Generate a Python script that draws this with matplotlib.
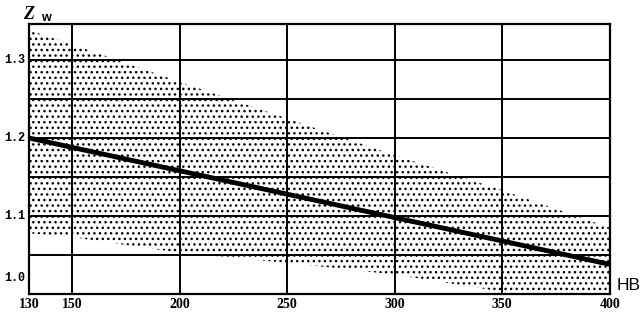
import matplotlib.pyplot as plt

# Band limits (Z_w against hardness HB) and the mean line
hb_band = [130, 150, 200, 250, 300, 350, 400]
zw_upper = [1.338, 1.320, 1.272, 1.225, 1.178, 1.133, 1.085]
zw_lower = [1.078, 1.073, 1.053, 1.040, 1.025, 1.003, 1.000]

hb_line = [130, 400]
zw_line = [1.200, 1.038]

x_ticks = [130, 150, 200, 250, 300, 350, 400]
y_grid = [1.05, 1.10, 1.15, 1.20, 1.25, 1.30]
y_labels = ['1.0', '1.1', '1.2', '1.3']

plt.rcParams['hatch.linewidth'] = 1.0

fig = plt.figure(figsize=(6.44, 3.21), dpi=100)
ax = fig.add_axes([0.045, 0.084, 0.902, 0.841])

# stippled scatter band
ax.fill_between(hb_band, zw_lower, zw_upper, facecolor='white',
                edgecolor='black', hatch='...', linewidth=0, zorder=1)

# grid
for y in y_grid:
    ax.axhline(y, color='black', lw=1.4, zorder=2)
for x in x_ticks[1:-1]:
    ax.axvline(x, color='black', lw=1.4, zorder=2)

ax.plot(hb_line, zw_line, color='black', lw=3.5, solid_capstyle='butt', zorder=3)

ax.set_xlim(130, 400)
ax.set_ylim(1.0, 1.346)
ax.set_xticks([])
ax.set_yticks([])
for s in ax.spines.values():
    s.set_linewidth(1.6)

# tick labels
for x in x_ticks:
    ax.text(x, -0.04, str(x), transform=ax.get_xaxis_transform(),
            ha='center', va='center', fontsize=10, fontweight='bold',
            family='Liberation Serif')
for lab in y_labels:
    y = float(lab)
    if y == 1.0:
        y = 1.02
    ax.text(-0.006, y, lab, transform=ax.get_yaxis_transform(),
            ha='right', va='center', fontsize=8.5, fontweight='bold',
            family='Liberation Mono')

ax.text(1.012, 0.03, 'HB', transform=ax.transAxes, ha='left', va='center',
        fontsize=12.5, family='Liberation Sans')
fig.text(0.036, 0.955, 'Z', fontsize=13, fontweight='bold', style='italic',
         family='Liberation Serif', ha='left', va='center')
fig.text(0.063, 0.945, 'w', fontsize=9, fontweight='bold',
         family='Liberation Sans', ha='left', va='center')

fig.savefig('out.png', dpi=100)
